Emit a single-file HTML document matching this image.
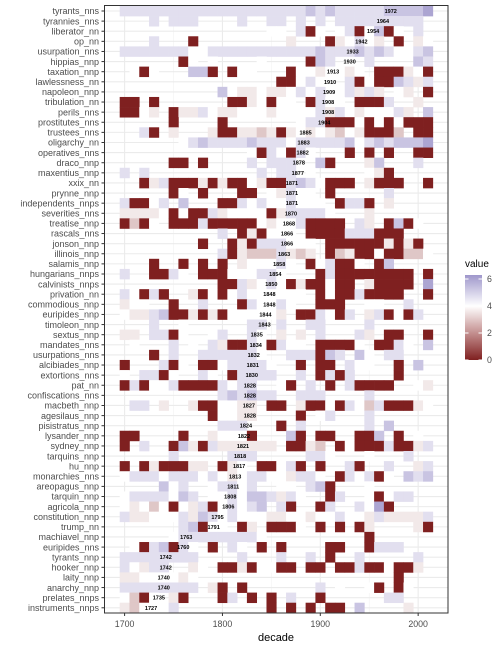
<!DOCTYPE html>
<html><head><meta charset="utf-8"><style>
html,body{margin:0;padding:0;background:#fff;}
svg text{font-family:"Liberation Sans",Arial,sans-serif;}
</style></head><body>
<svg id="chart" width="504" height="648" xmlns="http://www.w3.org/2000/svg">
<rect x="0" y="0" width="504" height="648" fill="#fff"/>
<g id="grid"></g>
<g id="cells"></g>
<g id="labels"></g>
<rect x="104.5" y="5.5" width="343.5" height="607.5" fill="none" stroke="#333" stroke-width="1"/>
<g id="yaxis"></g>
<g id="xaxis"></g>
<text x="276" y="641" font-size="11" text-anchor="middle" fill="#000">decade</text>
<g id="legend">
<defs><linearGradient id="lg" x1="0" y1="1" x2="0" y2="0">
<stop offset="0" stop-color="#7f2020"/><stop offset="0.317" stop-color="#c38f8f"/><stop offset="0.635" stop-color="#ffffff"/><stop offset="1" stop-color="#9f97cb"/></linearGradient></defs>
<text x="465" y="267" font-size="10" fill="#000">value</text>
<rect x="465" y="275" width="17" height="85" fill="url(#lg)"/>
</g>
</svg>
<script>
const rowNames=["tyrants_nns","tyrannies_nns","liberator_nn","op_nn","usurpation_nns","hippias_nnp","taxation_nnp","lawlessness_nn","napoleon_nnp","tribulation_nn","perils_nns","prostitutes_nns","trustees_nns","oligarchy_nn","operatives_nns","draco_nnp","maxentius_nnp","xxix_nn","prynne_nnp","independents_nnps","severities_nns","treatise_nnp","rascals_nns","jonson_nnp","illinois_nnp","salamis_nnp","hungarians_nnps","calvinists_nnps","privation_nn","commodious_nnp","euripides_nnp","timoleon_nnp","sextus_nnp","mandates_nns","usurpations_nns","alcibiades_nnp","extortions_nns","pat_nn","confiscations_nns","macbeth_nnp","agesilaus_nnp","pisistratus_nnp","lysander_nnp","sydney_nnp","tarquins_nnp","hu_nnp","monarchies_nns","areopagus_nnp","tarquin_nnp","agricola_nnp","constitution_nnp","trump_nn","machiavel_nnp","euripides_nns","tyrants_nnp","hooker_nnp","laity_nnp","anarchy_nnp","prelates_nnps","instruments_nnps"];
const medianYears=[1972,1964,1954,1942,1933,1930,1913,1910,1909,1908,1908,1904,1885,1883,1882,1878,1877,1871,1871,1871,1870,1868,1866,1866,1863,1858,1854,1850,1848,1848,1844,1843,1835,1834,1832,1831,1830,1828,1828,1827,1828,1824,1822,1821,1818,1817,1813,1811,1808,1806,1795,1791,1763,1760,1742,1742,1740,1740,1735,1727];
const decades=[];for(let d=1700;d<=2010;d+=10)decades.push(d);
const xTicks=[1700,1800,1900,2000];
const legendTicks=[0,2,4,6];
const codeValues={"0":0,"q":3.0,"p":3.6,"w":4.0,"l":4.7,"v":5.3,"u":6.0};
const cellRows=[
"lllllllllllllllllllvlvlllllvvvvu",
"...l.lll....l..ll.l.l.lllllllll.",
"...............ww.l0w.wl0wv0w.l.",
"...l...0.........p...0pwlwp.0.pw",
"lllllllwwlllllllllllvlllvlvlwwlv",
"......0w.w....w....0vl...l....vl",
".w0w...vv0.0ww...0wwpwwpw.000pw0",
"................00wlw..l0w00vlpl",
"..........vwppwppwlwl.wlplp.wp.0",
"00.0.......00pw0ww.0lww.000l..p.",
"00wp.0pplwppwwwpwwwwlplwpwwwlp.v",
".....0....0.......wll000w0w0w000",
"..l0.p...p00ppqp0pwpwpqwp000q.00",
"......wlvllllvlllwlllllvwlvlvvvu",
".............w0lw0lw...0.0.0..00",
".....00.0....l.lll..v0...pv...l.",
"l.l...........l.ll.w.....wp0....",
"..0pl000p0p00wp00lvlw000.p000..0",
".....0w.0...00.wplww.0.....l....",
"l00wl.v...00lwlwwlwww.0ll0.p....",
"ppppw0w00lpwwww0pllllw...p......",
"0q0w.000l00000wpwwl0000.lp.0v0w.",
"..........l.0p0www.0000lll000...",
"........0..0p0lllwww.000000p0p0.",
"..........l0pqqqlpqp.0qp00w00qqw",
"...0..0.0.0.pwwwlw.0wl00w.0v....",
"l..00lw.000wwwllw...0l00000000.0",
"..........00lpwlw0p00w00.p0000.u",
"lw0l0..p0w0wlwwwwww.0w00l0000..0",
"pww..0..l...0lwwlw..000..ww..l..",
"wpplv00p0p0wwwwwp.00lw0l.pl0w0l.",
"...l..w......ll.l..ll....l......",
"pp.ll0w..wl..lw.p.p.l...lp.00..0",
".w...l.w.lp00lw0lww.0000w.00lw.v",
"...0.l..llllllw..lll0vl.vw.ll...",
"0...l0w.00wllllw..0.00.lww..0.v.",
"w.ll0w..lw.0llll..l.0l0l....0...",
"0l0wwl0000lwll..w0.l.0.l0000..wp",
"..........lvlvll..lll....l......",
".ll.p..p00wwpp.00.p00w0lwql000pw",
".........0wwpp....0.wl...l......",
"..........lll...0.l......l.v....",
"00....0..pwww0...v0.00..00v.0.w.",
"0.l..0vp0lpppppp.00pq.0w000l00pl",
".....l.....lll.....llw...w...l..",
"0.0p000pp.0pw.00wl0.0..l0..l..pl",
"wlllwlllwlwpwllwwpllw.0lwl0w.vlv",
"....vwl..wllwl..ww.lv0...w......",
"wllllwvl.wwlwvvlplw..0l..w0wll..",
"wpwqw0wpl0wlwlv.l0..0l..lwu0....",
"lppwwwlpvlwlwwwppwwpwwlwwplppppl",
"......lv0ww.0p.000w.0.0.0p....p0",
".....wllllllllw..........0......",
".w0lv0lw.0.lw.0.0....00..0lll...",
"llllllll....l...l..l.0..l.....l.",
"lwpll..pw.00p0ww00.00.00l00w00p.",
"ppwwwwpw....................0...",
"llllllll.p0.0.......l.w..w0.0w..",
"wq0w.p0...0l.0.0.l..0......ll...",
"pqwwwl.........0.0.0.00.v....p.."
];
const values=cellRows.map(r=>r.split("").map(c=>c in codeValues?codeValues[c]:null));

const NS="http://www.w3.org/2000/svg";
function xPos(year){return 124.6+(year-1700)*0.9785;}
function yPos(i){return 11+i*10.115;}
function lPos(v){return 360-v*13.5;}
const CW=9.8,CH=10.15;
function mix(a,b,t){return a.map((x,i)=>Math.round(x+(b[i]-x)*t));}
function color(v){const red=[127,32,32],wh=[255,255,255],pu=[159,151,203];
 let c=v<=4?mix(red,wh,v/4):mix(wh,pu,Math.min(1,(v-4)/2.3));return "rgb("+c.join(",")+")";}
function el(tag,attrs,parent){const e=document.createElementNS(NS,tag);for(const k in attrs)e.setAttribute(k,attrs[k]);parent.appendChild(e);return e;}

const grid=document.getElementById("grid");
el("rect",{x:104.5,y:5.5,width:343.5,height:607.5,fill:"#fff"},grid);
[1750,1850,1950].forEach(y=>{const g=el("line",{x1:xPos(y),x2:xPos(y),y1:5.5,y2:613,stroke:"#f2f2f2","stroke-width":0.6},grid);

});
xTicks.forEach(y=>{const g=el("line",{x1:xPos(y),x2:xPos(y),y1:5.5,y2:613,stroke:"#ebebeb","stroke-width":1.1},grid);

});
rowNames.forEach((n,i)=>{const g=el("line",{x1:104.5,x2:448,y1:yPos(i),y2:yPos(i),stroke:"#ebebeb","stroke-width":1.1},grid);

});

const cells=document.getElementById("cells");
values.forEach((row,i)=>row.forEach((v,j)=>{if(v===null)return;
 const r=el("rect",{x:(xPos(decades[j])-CW/2).toFixed(2),y:(yPos(i)-CH/2).toFixed(2),width:CW+0.3,height:CH+0.3,fill:color(v)},cells);
 
 }));

const labels=document.getElementById("labels");
medianYears.forEach((y,i)=>{const t=el("text",{x:xPos(y),y:yPos(i)+2,"font-size":5.5,"font-weight":"bold","text-anchor":"middle",fill:"#000"},labels);
 t.textContent=y;
 
 });

const ya=document.getElementById("yaxis");
rowNames.forEach((n,i)=>{const t=el("text",{x:99,y:yPos(i)+3.2,"font-size":9,"text-anchor":"end",fill:"#4d4d4d"},ya);
 t.textContent=n;
 
 
 const k=el("line",{x1:101.5,x2:104.5,y1:yPos(i),y2:yPos(i),stroke:"#333","stroke-width":1},ya);
 
 });

const xa=document.getElementById("xaxis");
xTicks.forEach(y=>{const t=el("text",{x:xPos(y),y:627,"font-size":8.8,"text-anchor":"middle",fill:"#4d4d4d"},xa);
 t.textContent=y;
 
 
 const k=el("line",{x1:xPos(y),x2:xPos(y),y1:613,y2:616,stroke:"#333","stroke-width":1},xa);
 
 });

const lg=document.getElementById("legend");
legendTicks.forEach(v=>{const t=el("text",{x:487,y:lPos(v)+3,"font-size":8.8,fill:"#4d4d4d"},lg);
 t.textContent=v;
 
 
 const a=el("line",{x1:465,x2:468.5,y1:lPos(v),y2:lPos(v),stroke:"#fff","stroke-width":1},lg);
 
 
 const b=el("line",{x1:478.5,x2:482,y1:lPos(v),y2:lPos(v),stroke:"#fff","stroke-width":1},lg);
 
 });
</script>
</body></html>
